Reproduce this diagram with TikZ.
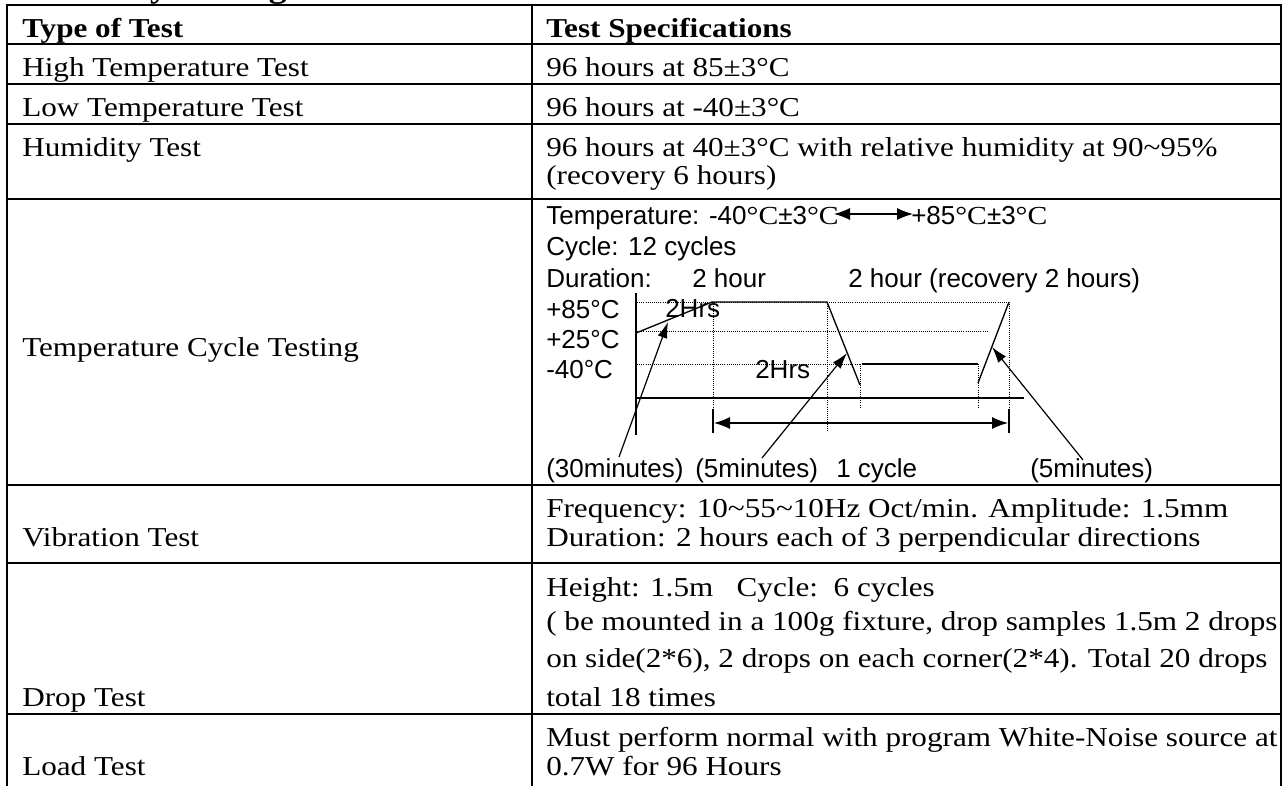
\documentclass[tikz,border=0pt]{standalone}
\usepackage{fontspec}
\setmainfont{Liberation Serif}[FakeStretch=1.14]
\setsansfont{Liberation Sans}
\usetikzlibrary{arrows.meta}
\newcommand{\degc}{{\rmfamily °C}}

\begin{document}
\begin{tikzpicture}[x=0.75pt,y=-0.75pt,
  rule/.style={draw=black, line width=1.5pt},
  cell/.style={anchor=base west, inner sep=0pt, font=\fontsize{20.5}{25}\selectfont},
  head/.style={cell, font=\fontsize{20.5}{25}\selectfont\bfseries},
  diag/.style={anchor=base west, inner sep=0pt, font=\sffamily\fontsize{19.5}{23}\selectfont},
  curve/.style={draw, line width=1pt},
  guide/.style={draw, line width=0.6pt, densely dotted},
  line/.style={draw, line width=0.9pt, -{Latex[length=12pt,width=7.5pt]}},
  span/.style={draw, line width=0.9pt, {Latex[length=12pt,width=9pt]}-{Latex[length=12pt,width=9pt]}}]
\useasboundingbox (0,0) rectangle (1285,786);

% title, cut off by the page edge
\node [anchor=base west, inner sep=0pt, font=\fontsize{23.5}{28}\selectfont\bfseries] (title) at (9,-3) {Reliability Testing};

% table rules
\foreach \y in {5,44,84,124,199,485,563,714}
  \draw [rule] (6,\y) -- (1282,\y);
\foreach \x in {7,532,1281}
  \draw [rule] (\x,4) -- (\x,786);

% left column
\node [head] (TT) at (22,37) {Type of Test};
\node [cell] (HT) at (22,76) {High Temperature Test};
\node [cell] (LT) at (22,116) {Low Temperature Test};
\node [cell] (HUM) at (22,156) {Humidity Test};
\node [cell] (TCT) at (22,356) {Temperature Cycle Testing};
\node [cell] (VT) at (22,546) {Vibration Test};
\node [cell] (DT) at (22,706) {Drop Test};
\node [cell] (LDT) at (22,775) {Load Test};

% right column
\node [head] (TS) at (546,37) {Test Specifications};
\node [cell] (HTspec) at (546,76) {96 hours at 85±3°C};
\node [cell] (LTspec) at (546,116) {96 hours at -40±3°C};
\node [cell] (HUMspecA) at (546,156) {96 hours at 40±3°C with relative humidity at 90\textasciitilde 95\%};
\node [cell] (HUMspecB) at (546,184) {(recovery 6 hours)};
\node [cell] (VTspecA) at (546,517) {Frequency: 10\textasciitilde 55\textasciitilde 10Hz Oct/min. Amplitude: 1.5mm};
\node [cell] (VTspecB) at (546,546) {Duration: 2 hours each of 3 perpendicular directions};
\node [cell] (DTspecA) at (546,596) {Height: 1.5m\ \ \ Cycle:\ \ 6 cycles};
\node [cell] (DTspecB) at (546,630) {( be mounted in a 100g fixture, drop samples 1.5m 2 drops};
\node [cell] (DTspecC) at (546,667) {on side(2*6), 2 drops on each corner(2*4). Total 20 drops};
\node [cell] (DTspecD) at (546,706) {total 18 times};
\node [cell] (LDTspecA) at (546,746) {Must perform normal with program White-Noise source at};
\node [cell] (LDTspecB) at (546,775) {0.7W for 96 Hours};

% temperature cycle chart
\node [diag] (TMP) at (546,224) {Temperature: -40\degc±3\degc};
\node [diag] (THI) at (911,224) {+85\degc±3\degc};
\node [diag] (CYC) at (546,255) {Cycle: 12 cycles};
\node [diag] (DUR) at (546,287) {Duration:};
\node [diag] (DURa) at (692,287) {2 hour};
\node [diag] (DURb) at (848,287) {2 hour (recovery 2 hours)};
\node [diag] (P85) at (546,318) {+85°C};
\node [diag] (P25) at (546,348) {+25°C};
\node [diag] (M40) at (546,378) {-40°C};
\node [diag] (HRSa) at (665,317) {2Hrs};
\node [diag] (HRSb) at (755,378) {2Hrs};
\node [diag] (MIN30) at (546,477) {(30minutes)};
\node [diag] (MIN5a) at (695,477) {(5minutes)};
\node [diag] (ONE) at (836,477) {1 cycle};
\node [diag] (MIN5b) at (1030,477) {(5minutes)};

\draw [guide] (637,302) -- (1009,302);
\draw [guide] (637,331) -- (987,331);
\draw [guide] (637,364) -- (860,364);
\draw [guide] (713,302) -- (713,409);
\draw [guide] (827,302) -- (827,432);
\draw [guide] (860,364) -- (860,408);
\draw [guide] (978,364) -- (978,408);
\draw [guide] (1009,302) -- (1009,409);

\draw [curve] (636,293) -- (636,435);
\draw [curve] (636,398) -- (1024,398);
\draw [curve] (636,333) -- (712,302) -- (827,302) -- (860,385);
\draw [curve] (862,364) -- (978,364);
\draw [curve] (978,383) -- (1009,302);
\draw [curve] (713,409) -- (713,433);
\draw [curve] (1009,409) -- (1009,433);

\coordinate (tmpL) at (834,214);
\coordinate (tmpR) at (913,214);
\coordinate (cycL) at (714,423);
\coordinate (cycR) at (1008,423);
\coordinate (t30) at (619,457);
\coordinate (h30) at (668,322);
\coordinate (t5a) at (762,458);
\coordinate (h5a) at (847,353);
\coordinate (t5b) at (1083,460);
\coordinate (h5b) at (992,347);

\path [span] (tmpL) -- (tmpR);
\path [span] (cycL) -- (cycR);
\begin{scope}[every path/.style=line]
  \path (t30) -- (h30);
  \path (t5a) -- (h5a);
  \path (t5b) -- (h5b);
\end{scope}
\end{tikzpicture}
\end{document}
